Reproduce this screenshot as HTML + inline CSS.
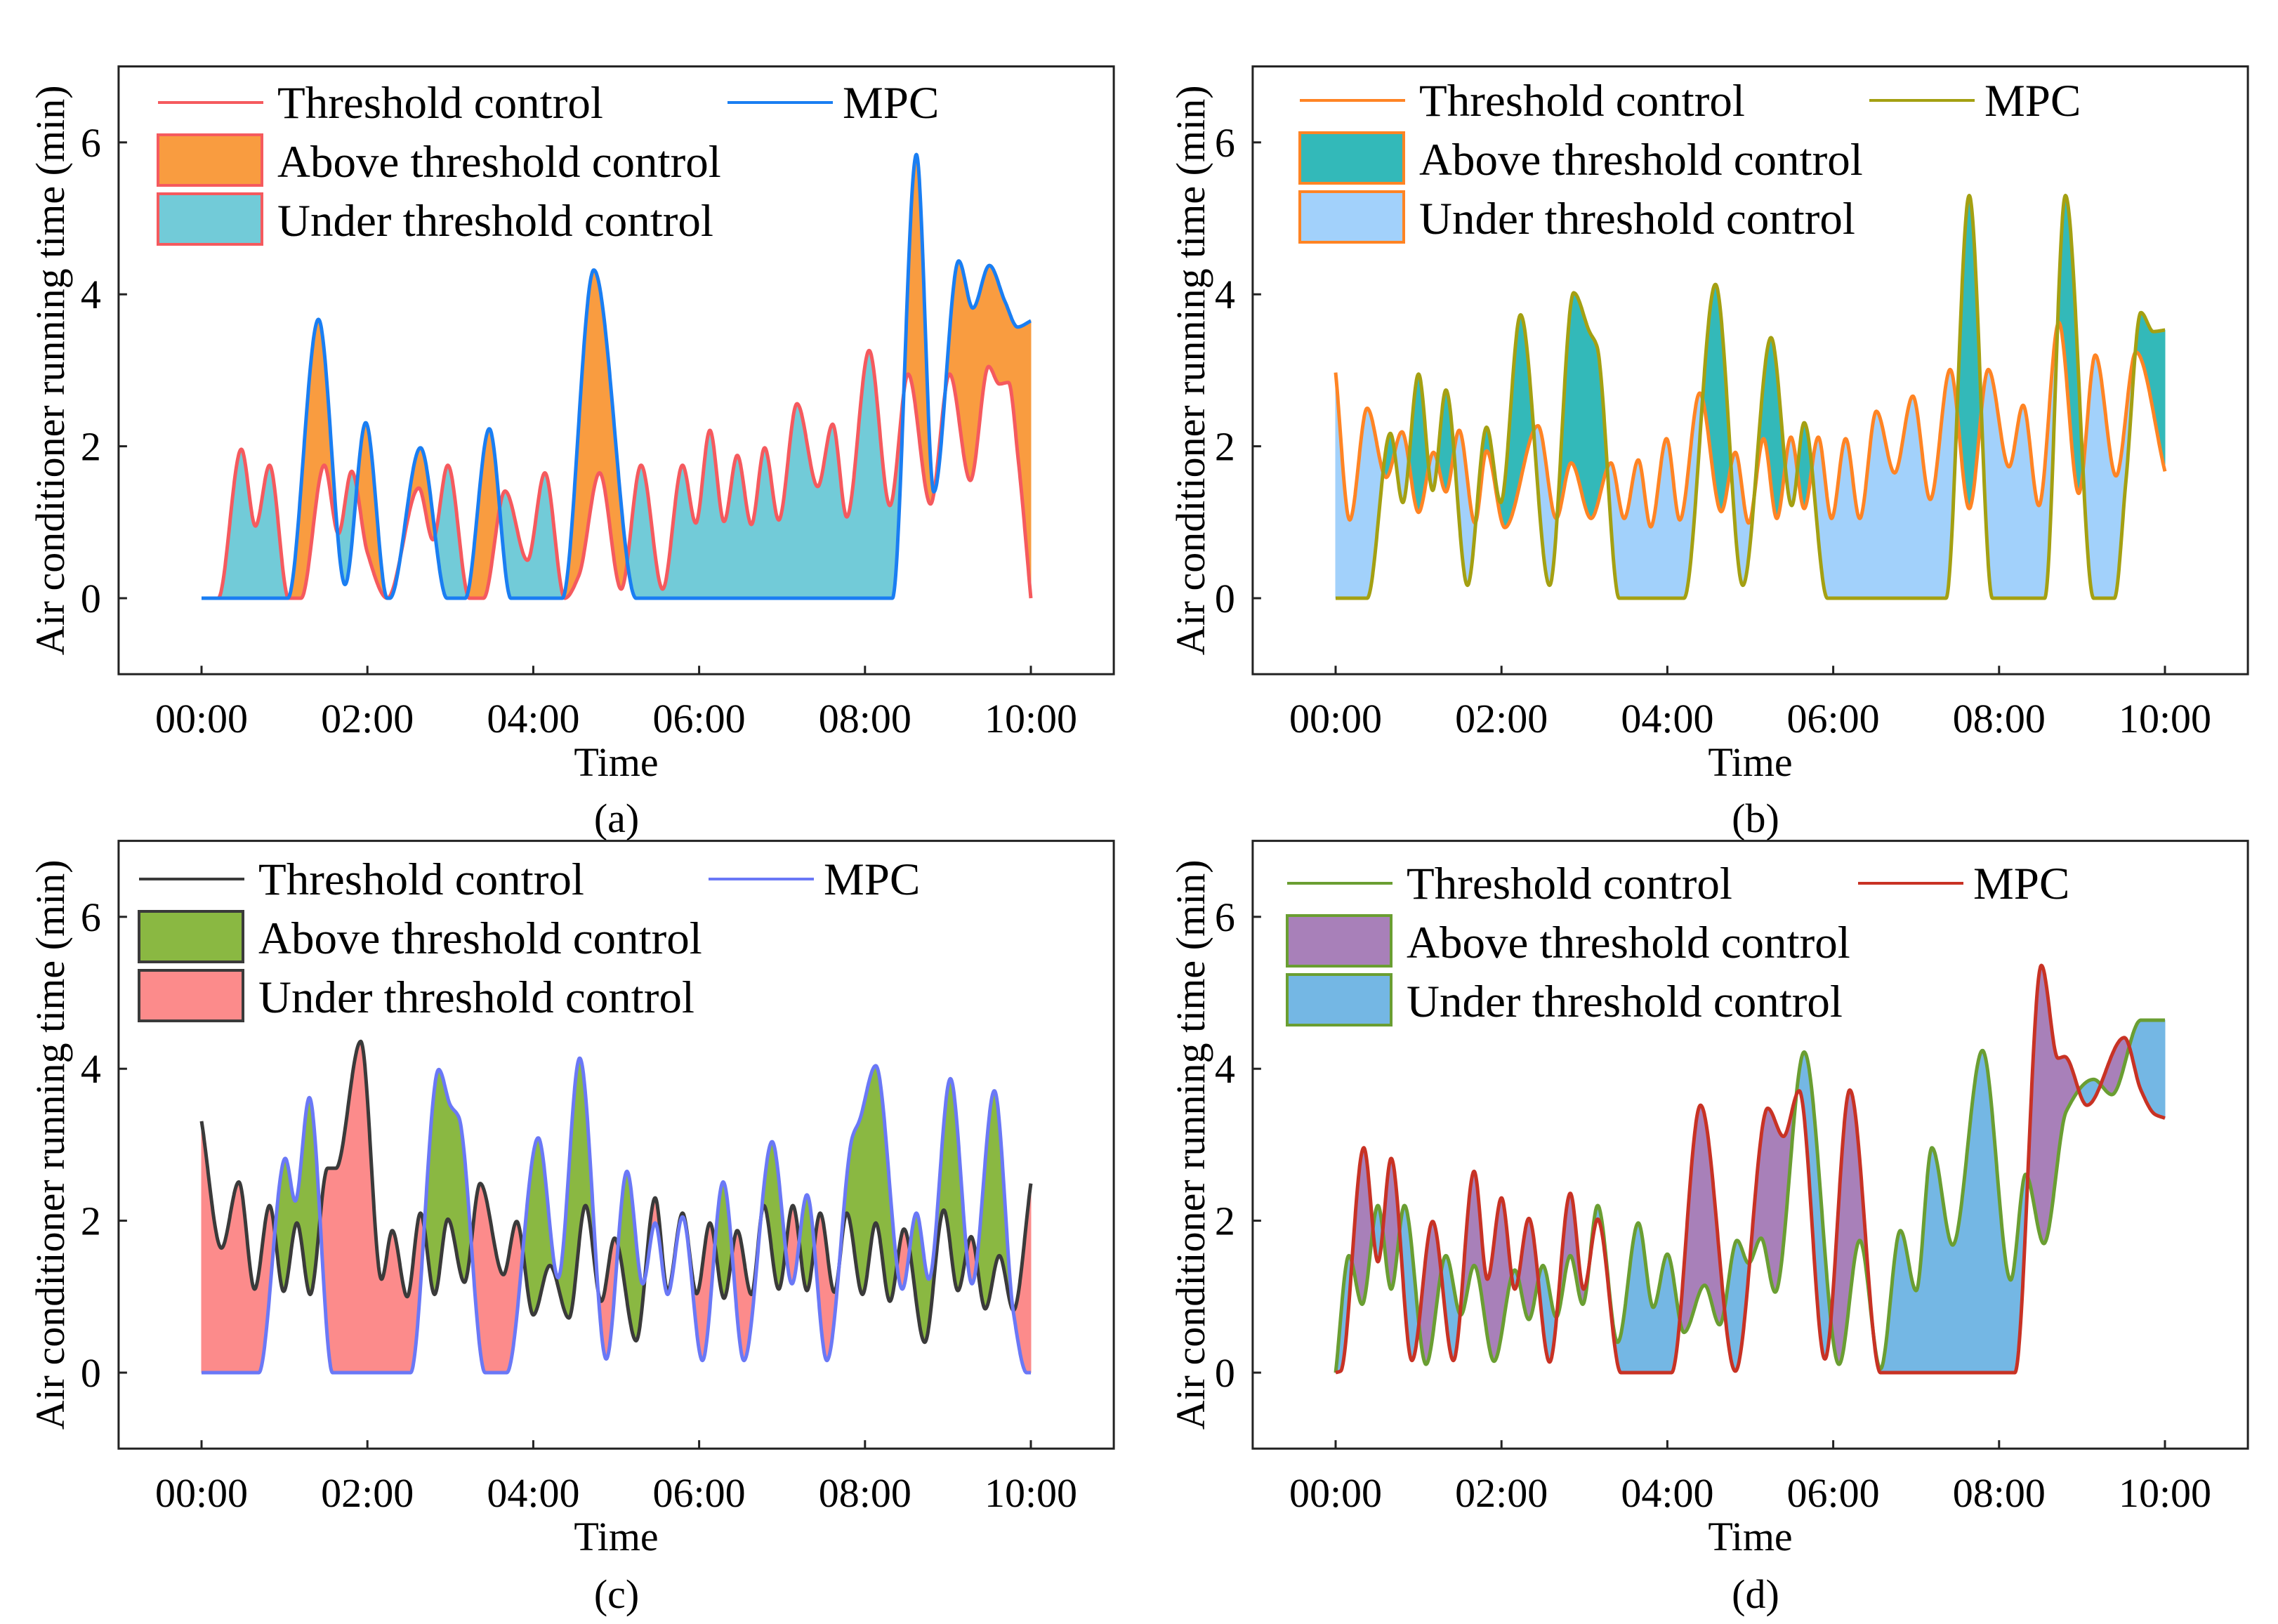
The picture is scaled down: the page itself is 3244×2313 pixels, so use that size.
<!DOCTYPE html>
<html><head><meta charset="utf-8"><style>
html,body{margin:0;padding:0;background:#fff;}
svg{display:block;}
text{font-family:"Liberation Serif",serif;fill:#000;}
</style></head><body>
<svg id="chart" width="3244" height="2313" viewBox="0 0 3244 2313" xmlns="http://www.w3.org/2000/svg"></svg>
<script>
// ---- Panel (a) data: [time(h), minutes] ----
const aThrT=[0,0.2,0.48,0.65,0.82,1.05,1.2,1.48,1.65,1.81,2.0,2.24,2.62,2.79,2.97,3.23,3.4,3.66,3.93,4.14,4.38,4.55,4.80,5.06,5.30,5.56,5.80,5.96,6.13,6.30,6.46,6.63,6.79,6.96,7.18,7.43,7.61,7.78,8.05,8.30,8.52,8.79,9.02,9.27,9.49,9.62,9.73,9.85,10];
const aThrV=[0,0,1.96,0.95,1.75,0,0,1.75,0.85,1.67,0.6,0,1.45,0.77,1.75,0,0,1.41,0.5,1.65,0,0.3,1.65,0.12,1.75,0.12,1.75,0.99,2.21,1.01,1.88,0.97,1.98,1.03,2.56,1.47,2.29,1.07,3.26,1.22,2.95,1.24,2.95,1.55,3.05,2.82,2.84,1.8,0];
const aMpcT=[0,1.04,1.41,1.73,1.98,2.24,2.27,2.64,2.96,3.18,3.47,3.73,4.35,4.73,5.24,8.33,8.62,8.83,9.13,9.30,9.50,9.69,9.84,10];
const aMpcV=[0,0,3.67,0.18,2.31,0,0,1.98,0,0,2.23,0,0,4.32,0,0,5.84,1.40,4.44,3.82,4.38,3.9,3.57,3.65];
// ---- Panel (b) ----
const bThrT=[0,0.17,0.38,0.61,0.80,1.00,1.18,1.33,1.49,1.68,1.82,2.04,2.44,2.66,2.84,3.08,3.32,3.48,3.65,3.80,3.99,4.15,4.39,4.65,4.82,4.98,5.16,5.32,5.49,5.65,5.82,5.98,6.15,6.32,6.52,6.74,6.96,7.17,7.41,7.64,7.87,8.12,8.29,8.48,8.72,8.96,9.16,9.41,9.65,10];
const bThrV=[2.97,1.03,2.50,1.59,2.19,1.13,1.92,1.40,2.21,0.99,1.94,0.93,2.27,1.05,1.78,1.05,1.78,1.05,1.82,0.94,2.10,1.03,2.70,1.14,1.92,0.99,2.10,1.05,2.12,1.18,2.12,1.05,2.10,1.05,2.46,1.65,2.66,1.30,3.01,1.18,3.01,1.73,2.54,1.22,3.63,1.38,3.20,1.61,3.24,1.67];
const bMpcT=[0,0.38,0.66,0.81,1.00,1.17,1.33,1.59,1.82,1.99,2.23,2.58,2.87,3.06,3.15,3.42,4.20,4.58,4.91,5.25,5.50,5.65,5.93,7.36,7.64,7.92,8.55,8.80,9.14,9.39,9.53,9.71,9.86,10];
const bMpcV=[0,0,2.17,1.26,2.95,1.42,2.74,0.17,2.25,1.26,3.73,0.17,4.02,3.51,3.32,0,0,4.13,0.17,3.43,1.22,2.31,0,0,5.30,0,0,5.30,0,0,1.55,3.76,3.51,3.53];
// ---- Panel (c) ----
const cThrT=[0,0.24,0.45,0.64,0.82,0.99,1.15,1.31,1.52,1.62,1.92,2.17,2.30,2.48,2.64,2.81,2.97,3.17,3.36,3.64,3.80,4.00,4.20,4.43,4.63,4.82,4.98,5.24,5.47,5.62,5.80,5.97,6.13,6.30,6.46,6.63,6.78,6.96,7.13,7.30,7.46,7.63,7.78,7.97,8.13,8.30,8.47,8.72,8.95,9.12,9.28,9.45,9.62,9.79,10];
const cThrV=[3.31,1.64,2.51,1.10,2.20,1.07,1.97,1.03,2.69,2.69,4.36,1.23,1.87,1.00,2.10,1.03,2.02,1.19,2.49,1.29,1.99,0.76,1.41,0.72,2.20,0.94,1.77,0.42,2.30,1.08,2.10,1.04,1.97,0.98,1.87,1.03,2.20,1.10,2.20,1.08,2.10,1.06,2.10,1.03,1.97,0.94,1.89,0.40,2.14,1.08,1.79,0.84,1.54,0.82,2.49];
const cMpcT=[0,0.69,1.01,1.13,1.30,1.58,2.52,2.86,3.00,3.10,3.42,3.68,4.06,4.30,4.56,4.88,5.13,5.32,5.47,5.62,5.80,6.04,6.29,6.54,6.88,7.12,7.30,7.54,7.85,7.93,8.13,8.45,8.62,8.77,9.03,9.29,9.56,9.79,9.95,10];
const cMpcV=[0,0,2.82,2.26,3.62,0,0,3.99,3.52,3.37,0,0,3.09,1.25,4.14,0.18,2.65,1.17,1.97,1.03,2.05,0.16,2.51,0.16,3.04,1.17,2.34,0.16,3.11,3.31,4.04,1.10,2.10,1.23,3.87,1.17,3.71,0.79,0,0];
// ---- Panel (d) ----
const dThrT=[0,0.16,0.32,0.51,0.67,0.83,1.09,1.33,1.51,1.67,1.91,2.16,2.33,2.50,2.66,2.83,2.98,3.16,3.40,3.65,3.83,4.00,4.20,4.45,4.63,4.84,4.98,5.13,5.30,5.65,6.07,6.32,6.57,6.81,7.00,7.19,7.44,7.80,8.14,8.32,8.54,8.81,9.14,9.36,9.71,10];
const dThrV=[0,1.54,0.90,2.20,1.10,2.20,0.11,1.54,0.76,1.41,0.15,1.35,0.70,1.41,0.73,1.54,0.90,2.20,0.40,1.97,0.86,1.56,0.53,1.15,0.63,1.74,1.44,1.77,1.06,4.22,0.11,1.74,0.05,1.87,1.08,2.96,1.68,4.24,1.22,2.61,1.70,3.44,3.86,3.66,4.64,4.64];
const dMpcT=[0,0.06,0.34,0.51,0.67,0.92,1.17,1.42,1.67,1.83,2.00,2.16,2.33,2.58,2.83,2.99,3.16,3.44,4.05,4.40,4.82,5.21,5.40,5.59,5.90,6.20,6.57,8.19,8.51,8.71,8.79,9.06,9.51,9.71,9.88,10];
const dMpcV=[0,0.02,2.96,1.46,2.82,0.16,1.99,0.16,2.65,1.23,2.30,1.10,2.03,0.14,2.36,1.10,2.02,0,0,3.52,0.02,3.48,3.11,3.71,0.18,3.72,0,0,5.36,4.14,4.16,3.52,4.41,3.72,3.40,3.35];
// ---- axis ticks ----
const xTickVals=[0,2,4,6,8,10];
const xTickLabels=["00:00","02:00","04:00","06:00","08:00","10:00"];
const yTickVals=[0,2,4,6];
const legendLabels=["Threshold control","MPC","Above threshold control","Under threshold control"];
const panelLetters=["(a)","(b)","(c)","(d)"];

const NS="http://www.w3.org/2000/svg";
const svg=document.getElementById('chart');
function mk(tag,attrs,parent){const e=document.createElementNS(NS,tag);for(const k in attrs)e.setAttribute(k,attrs[k]);(parent||svg).appendChild(e);return e;}

function monotone(xs,ys){
  const n=xs.length,d=[],m=new Array(n);
  for(let i=0;i<n-1;i++)d.push((ys[i+1]-ys[i])/(xs[i+1]-xs[i]));
  m[0]=d[0];m[n-1]=d[n-2];
  for(let i=1;i<n-1;i++){ if(d[i-1]*d[i]<=0)m[i]=0; else {const w1=2*(xs[i+1]-xs[i])+(xs[i]-xs[i-1]),w2=(xs[i+1]-xs[i])+2*(xs[i]-xs[i-1]);m[i]=(w1+w2)/(w1/d[i-1]+w2/d[i]);} }
  return function(x){
    let i=0;while(i<n-2&&x>xs[i+1])i++;
    const h=xs[i+1]-xs[i],t=(x-xs[i])/h,t2=t*t,t3=t2*t;
    return (2*t3-3*t2+1)*ys[i]+(t3-2*t2+t)*h*m[i]+(-2*t3+3*t2)*ys[i+1]+(t3-t2)*h*m[i+1];
  };
}

const panels=[
 {x0:287,y0:852,thrT:aThrT,thrV:aThrV,mpcT:aMpcT,mpcV:aMpcV,cT:"#f55a5e",cM:"#1a7ef2",cA:"#f99c40",cU:"#72cbd8",key:"a",lgX:225,lgX2:1036,lgY:146,ttl:73,letterX:878,letterY:1185},
 {x0:1902,y0:852,thrT:bThrT,thrV:bThrV,mpcT:bMpcT,mpcV:bMpcV,cT:"#ff8424",cM:"#a4a012",cA:"#33b9b9",cU:"#a2d1fb",key:"b",lgX:1851,lgX2:2662,lgY:143,ttl:1697,letterX:2500,letterY:1185},
 {x0:287,y0:1955,thrT:cThrT,thrV:cThrV,mpcT:cMpcT,mpcV:cMpcV,cT:"#3a3a3a",cM:"#6a78f6",cA:"#8ab842",cU:"#fc8b8b",key:"c",lgX:198,lgX2:1009,lgY:1252,ttl:73,letterX:878,letterY:2290},
 {x0:1902,y0:1955,thrT:dThrT,thrV:dThrV,mpcT:dMpcT,mpcV:dMpcV,cT:"#6a9e32",cM:"#c83224",cA:"#a880b9",cU:"#74b7e4",key:"d",lgX:1833,lgX2:2646,lgY:1258,ttl:1697,letterX:2500,letterY:2290}
];
const HX=118.1, UY=108.2;

panels.forEach((p,pi)=>{
  const g=mk('g',{});
  
  
  const X=t=>p.x0+t*HX, Y=v=>p.y0-v*UY;
  const fT=monotone(p.thrT,p.thrV), fM=monotone(p.mpcT,p.mpcV);
  const N=2000, ts=[],a=[],b=[];
  for(let i=0;i<=N;i++){const t=10*i/N;ts.push(t);a.push(Math.max(0,fT(t)));b.push(Math.max(0,fM(t)));}
  let up=[],lo=[],sign=null;
  function flush(){ if(up.length>1){
      const pts=up.concat(lo.slice().reverse()).map(q=>q[0].toFixed(1)+','+q[1].toFixed(1)).join(' ');
      const col=sign>0?p.cA:p.cU;
      const poly=mk('polygon',{points:pts,fill:col,stroke:col,'stroke-width':1},g);
      
      
    } up=[];lo=[]; }
  for(let i=0;i<=N;i++){
    const d=b[i]-a[i], s=d>=0?1:-1;
    if(sign!==null&&s!==sign&&i>0){
      const d0=b[i-1]-a[i-1], f=d0/(d0-d), tc=ts[i-1]+f*(ts[i]-ts[i-1]), vc=a[i-1]+f*(a[i]-a[i-1]);
      up.push([X(tc),Y(vc)]);lo.push([X(tc),Y(vc)]);flush();sign=s;
      up.push([X(tc),Y(vc)]);lo.push([X(tc),Y(vc)]);
    }
    if(sign===null)sign=s;
    up.push([X(ts[i]),Y(b[i])]);lo.push([X(ts[i]),Y(a[i])]);
  }
  flush();
  const pathOf=arr=>arr.map((v,i)=>(i?'L':'M')+X(ts[i]).toFixed(1)+' '+Y(v).toFixed(1)).join('');
  const lt=mk('path',{d:pathOf(a),fill:'none',stroke:p.cT,'stroke-width':5,'stroke-linejoin':'round'},g);
  
  
  const lm=mk('path',{d:pathOf(b),fill:'none',stroke:p.cM,'stroke-width':5,'stroke-linejoin':'round'},g);
  
  
  const fr=mk('rect',{x:X(-1),y:Y(7),width:12*HX,height:8*UY,fill:'none',stroke:'#222','stroke-width':3},g);
  
  
  xTickVals.forEach((tv,i)=>{
    mk('line',{x1:X(tv),x2:X(tv),y1:Y(-1),y2:Y(-1)-12,stroke:'#222','stroke-width':3},g);
    const tx=mk('text',{x:X(tv),y:Y(-1)+83,'font-size':58,'text-anchor':'middle'},g);
    tx.textContent=xTickLabels[i];
    
    
  });
  yTickVals.forEach(v=>{
    mk('line',{x1:X(-1),x2:X(-1)+12,y1:Y(v),y2:Y(v),stroke:'#222','stroke-width':3},g);
    const ty=mk('text',{x:X(-1)-25,y:Y(v)+20,'font-size':58,'text-anchor':'end'},g);
    ty.textContent=String(v);
    
    
  });
  const xl=mk('text',{x:X(5),y:Y(-1)+145,'font-size':58,'text-anchor':'middle'},g);
  xl.textContent='Time';
  
  
  const ycy=(Y(7)+Y(-1))/2;
  const yl=mk('text',{x:p.ttl,y:ycy,'font-size':58,'text-anchor':'middle',transform:'rotate(-90 '+p.ttl+' '+ycy+')'},g);
  yl.setAttribute('dy','18');
  yl.textContent='Air conditioner running time (min)';
  
  
  const pl=mk('text',{x:p.letterX,y:p.letterY,'font-size':58,'text-anchor':'middle'},g);
  pl.textContent=panelLetters[pi];
  
  
  const lg=mk('g',{},g);
  
  
  const e1=mk('line',{x1:p.lgX,x2:p.lgX+150,y1:p.lgY,y2:p.lgY,stroke:p.cT,'stroke-width':4},lg);
  
  
  const t1=mk('text',{x:p.lgX+170,y:p.lgY+22,'font-size':65},lg);t1.textContent=legendLabels[0];
  
  
  const e2=mk('line',{x1:p.lgX2,x2:p.lgX2+150,y1:p.lgY,y2:p.lgY,stroke:p.cM,'stroke-width':4},lg);
  
  
  const t2=mk('text',{x:p.lgX2+164,y:p.lgY+22,'font-size':65},lg);t2.textContent=legendLabels[1];
  
  
  const r1=mk('rect',{x:p.lgX,y:p.lgY+46,width:148,height:72,fill:p.cA,stroke:p.cT,'stroke-width':4},lg);
  
  
  const t3=mk('text',{x:p.lgX+170,y:p.lgY+106,'font-size':65},lg);t3.textContent=legendLabels[2];
  
  
  const r2=mk('rect',{x:p.lgX,y:p.lgY+130,width:148,height:72,fill:p.cU,stroke:p.cT,'stroke-width':4},lg);
  
  
  const t4=mk('text',{x:p.lgX+170,y:p.lgY+190,'font-size':65},lg);t4.textContent=legendLabels[3];
  
  
});
</script>
</body></html>
